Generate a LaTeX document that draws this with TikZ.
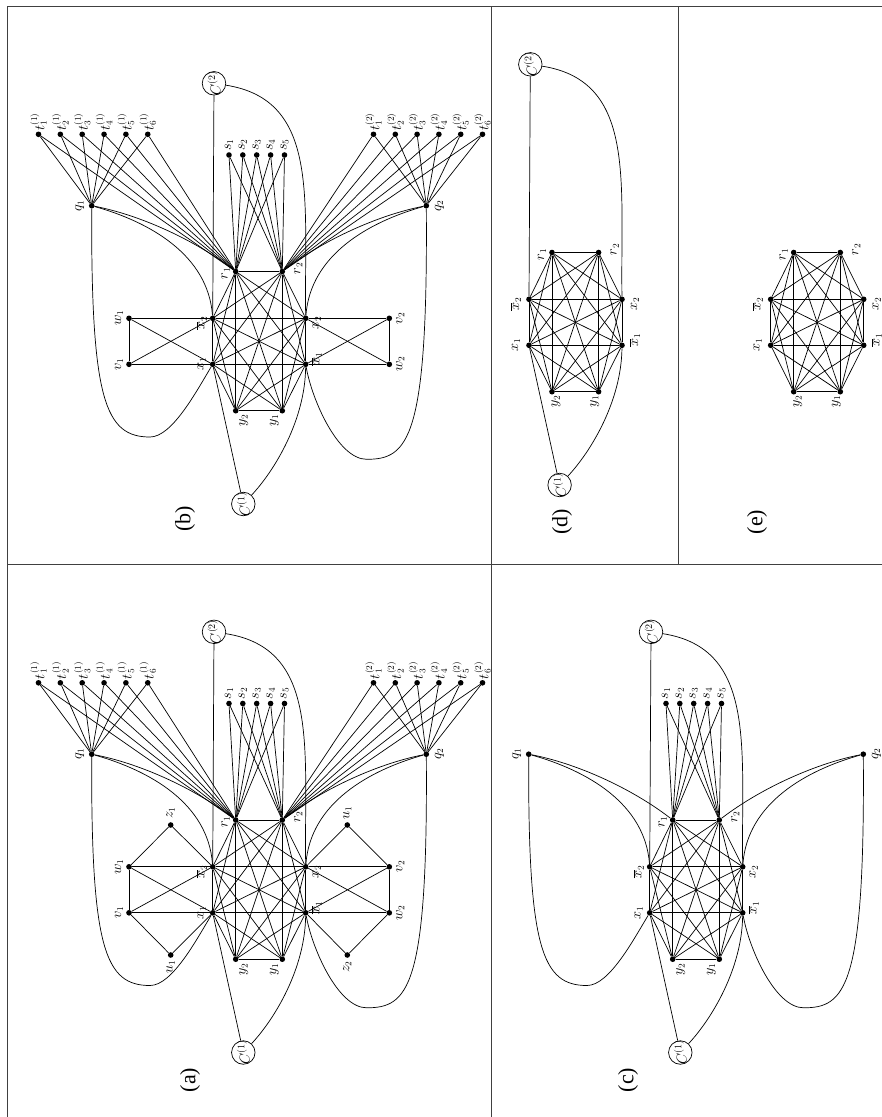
\documentclass[tikz,border=0pt]{standalone}
\usepackage{fontspec}
\setmainfont{Liberation Serif}
\usetikzlibrary{calc}
\tikzset{
  edge/.style={line width=0.7pt,black},
  dot/.style={circle,fill=black,inner sep=0pt,minimum size=5.6pt},
  lbl/.style={rotate=90,inner sep=0pt,font=\fontsize{13.5}{15}\selectfont},
  cnode/.style={circle,draw,line width=0.7pt,minimum size=23.5pt,inner sep=0pt,rotate=90,font=\fontsize{14.5}{16}\selectfont},
  plab/.style={rotate=90,inner sep=0pt,font=\fontsize{22}{25}\selectfont},
  frame/.style={line width=1pt,black!75}
}
% label node at offset (image px) from a named node
\newcommand\nlab[3]{\node[lbl] (#1-l) at ([shift={(#2)}]#1) {#3};}
% central 8-clique; #1 prefix, #2 x-label offset, #3 y-label offset
\newcommand\cliquenodes[3]{%
  \node[dot] (#1r1) at (235.7,271.5) {};
  \node[dot] (#1r2) at (282.3,271.5) {};
  \node[dot] (#1xb2) at (212.7,318.3) {};
  \node[dot] (#1x2) at (305.7,318.3) {};
  \node[dot] (#1x1) at (212.7,364.3) {};
  \node[dot] (#1xb1) at (305.7,364.3) {};
  \node[dot] (#1y2) at (235.7,410.7) {};
  \node[dot] (#1y1) at (282.3,410.7) {};
  \foreach \a/\b in {r1/r2,r1/xb2,r1/x2,r1/x1,r1/xb1,r1/y2,r1/y1,
                     r2/xb2,r2/x2,r2/x1,r2/xb1,r2/y2,r2/y1,
                     xb2/x2,xb2/x1,xb2/xb1,xb2/y2,xb2/y1,
                     x2/x1,x2/xb1,x2/y2,x2/y1,
                     x1/xb1,x1/y2,x1/y1,
                     xb1/y2,xb1/y1,y2/y1}
    {\draw[edge] (#1\a) -- (#1\b);}
  \nlab{#1r1}{-10,2}{$r_1$}
  \nlab{#1r2}{16,-3}{$r_2$}
  \nlab{#1xb2}{-#2,5}{$\overline{x}_2$}
  \nlab{#1x1}{-#2,0}{$x_1$}
  \nlab{#1x2}{#2,5}{$x_2$}
  \nlab{#1xb1}{#2,-5}{$\overline{x}_1$}
  \nlab{#1y2}{#3,10}{$y_2$}
  \nlab{#1y1}{-#3,10}{$y_1$}
}
\newcommand\cnodes[1]{%
  \node[cnode] (#1C2) at (214,83.3) {\makebox[0pt]{$C^{(2)}$}};
  \node[cnode] (#1C1) at (243.3,504) {\makebox[0pt]{$C^{(1)}$}};
  \draw[edge] (#1C2) -- (#1xb2);
  \draw[edge] (#1C2) .. controls (320,100) and (304,200) .. (#1x2);
  \draw[edge] (#1C1) -- (#1x1);
  \draw[edge] (#1C1) .. controls (275,470) and (305,420) .. (#1xb1);
}
\newcommand\qsnodes[1]{%
  \node[dot] (#1q1) at (91.7,205.7) {};
  \node[dot] (#1q2) at (426.3,205.7) {};
  \nlab{#1q1}{-12,0}{$q_1$}
  \nlab{#1q2}{13,0}{$q_2$}
  \foreach \i/\xx in {1/229,2/242.8,3/256.7,4/270.6,5/284.5} {%
    \node[dot] (#1s\i) at (\xx,155) {};
    \nlab{#1s\i}{0,-10}{$s_{\i}$}
    \draw[edge] (#1s\i) -- (#1r1);
    \draw[edge] (#1s\i) -- (#1r2);
  }
  \coordinate (#1B1) at (150,437);
  \coordinate (#1B2) at (366.7,459.3);
  \draw[edge] (#1q1) .. controls (140,215) and (195,240) .. (#1r1);
  \draw[edge] (#1q2) .. controls (378.4,215) and (323.4,240) .. (#1r2);
  \draw[edge] (#1q1) .. controls (150,222) and (208,255) .. (#1xb2);
  \draw[edge] (#1q2) .. controls (368.4,222) and (310.4,255) .. (#1x2);
  \draw[edge] (#1q1) .. controls (91,400) and (105,437) .. (#1B1)
                     .. controls (172,437) and (196,392) .. (#1x1);
  \draw[edge] (#1q2) .. controls (428,440) and (408,459.3) .. (#1B2)
                     .. controls (338,459.3) and (312,400) .. (#1xb1);
}
\newcommand\tnodes[1]{%
  \foreach \i in {1,...,6} {%
    \node[dot] (#1ta\i) at ({38.5+21.85*(\i-1)},134.3) {};
    \nlab{#1ta\i}{0,-12.5}{$t^{(1)}_{\i}$}
    \draw[edge] (#1ta\i) -- (#1q1);
    \draw[edge] (#1ta\i) -- (#1r1);
    \node[dot] (#1tb\i) at ({373.5+21.8*(\i-1)},134.3) {};
    \nlab{#1tb\i}{0,-12.5}{$t^{(2)}_{\i}$}
    \draw[edge] (#1tb\i) -- (#1q2);
    \draw[edge] (#1tb\i) -- (#1r2);
  }
}
\newcommand\wvnodes[1]{%
  \node[dot] (#1w1) at (129,318.3) {};
  \node[dot] (#1v1) at (129,364.3) {};
  \node[dot] (#1v2) at (389.3,318.3) {};
  \node[dot] (#1w2) at (389.3,364.3) {};
  \nlab{#1w1}{-10,0}{$w_1$}
  \nlab{#1v1}{-10,0}{$v_1$}
  \nlab{#1v2}{11,0}{$v_2$}
  \nlab{#1w2}{11,0}{$w_2$}
  \foreach \a/\b in {w1/v1,w1/xb2,w1/x1,v1/x1,v1/xb2,v2/w2,v2/x2,v2/xb1,w2/xb1,w2/x2}
    {\draw[edge] (#1\a) -- (#1\b);}
}
\newcommand\zunodes[1]{%
  \node[dot] (#1z1) at (170.7,276.5) {};
  \node[dot] (#1ua) at (170.7,406.5) {};
  \node[dot] (#1ub) at (347.3,276.5) {};
  \node[dot] (#1z2) at (347.3,406.5) {};
  \nlab{#1z1}{0,-12}{$z_1$}
  \nlab{#1ua}{0,12}{$u_1$}
  \nlab{#1ub}{0,-12}{$u_1$}
  \nlab{#1z2}{0,12}{$z_2$}
  \foreach \a/\b in {z1/w1,z1/xb2,ua/v1,ua/x1,ub/x2,ub/v2,z2/xb1,z2/w2}
    {\draw[edge] (#1\a) -- (#1\b);}
}
\begin{document}
\begin{tikzpicture}[x=1pt,y=-1pt]
\useasboundingbox (0,0) rectangle (882,1117);
% frame
\draw[frame] (7.3,1117) -- (7.3,6) -- (882,6);
\draw[frame] (491.8,6) -- (491.8,1117);
\draw[frame] (678,6) -- (678,564);
\draw[frame] (7.3,564) -- (882,564);
% (b)
\begin{scope}
  \cliquenodes{b}{11}{8}
  \cnodes{b}
  \qsnodes{b}
  \tnodes{b}
  \wvnodes{b}
\end{scope}
\node[plab] (lab-b) at (185,519) {(b)};
% (a)
\begin{scope}[shift={(0,548.5)}]
  \cliquenodes{a}{11}{8}
  \cnodes{a}
  \qsnodes{a}
  \tnodes{a}
  \wvnodes{a}
  \zunodes{a}
\end{scope}
\node[plab] (lab-a) at (190,1080) {(a)};
% (c)
\begin{scope}[shift={(437,548.5)}]
  \cliquenodes{c}{11}{8}
  \cnodes{c}
  \qsnodes{c}
\end{scope}
\node[plab] (lab-c) at (628,1080) {(c)};
% (d)
\begin{scope}[shift={(316.3,-19)}]
  \cliquenodes{d}{13}{4}
  \cnodes{d}
\end{scope}
\node[plab] (lab-d) at (562,522) {(d)};
% (e)
\begin{scope}[shift={(558,-19)}]
  \cliquenodes{e}{13}{4}
\end{scope}
\node[plab] (lab-e) at (757,522) {(e)};
\end{tikzpicture}
\end{document}
